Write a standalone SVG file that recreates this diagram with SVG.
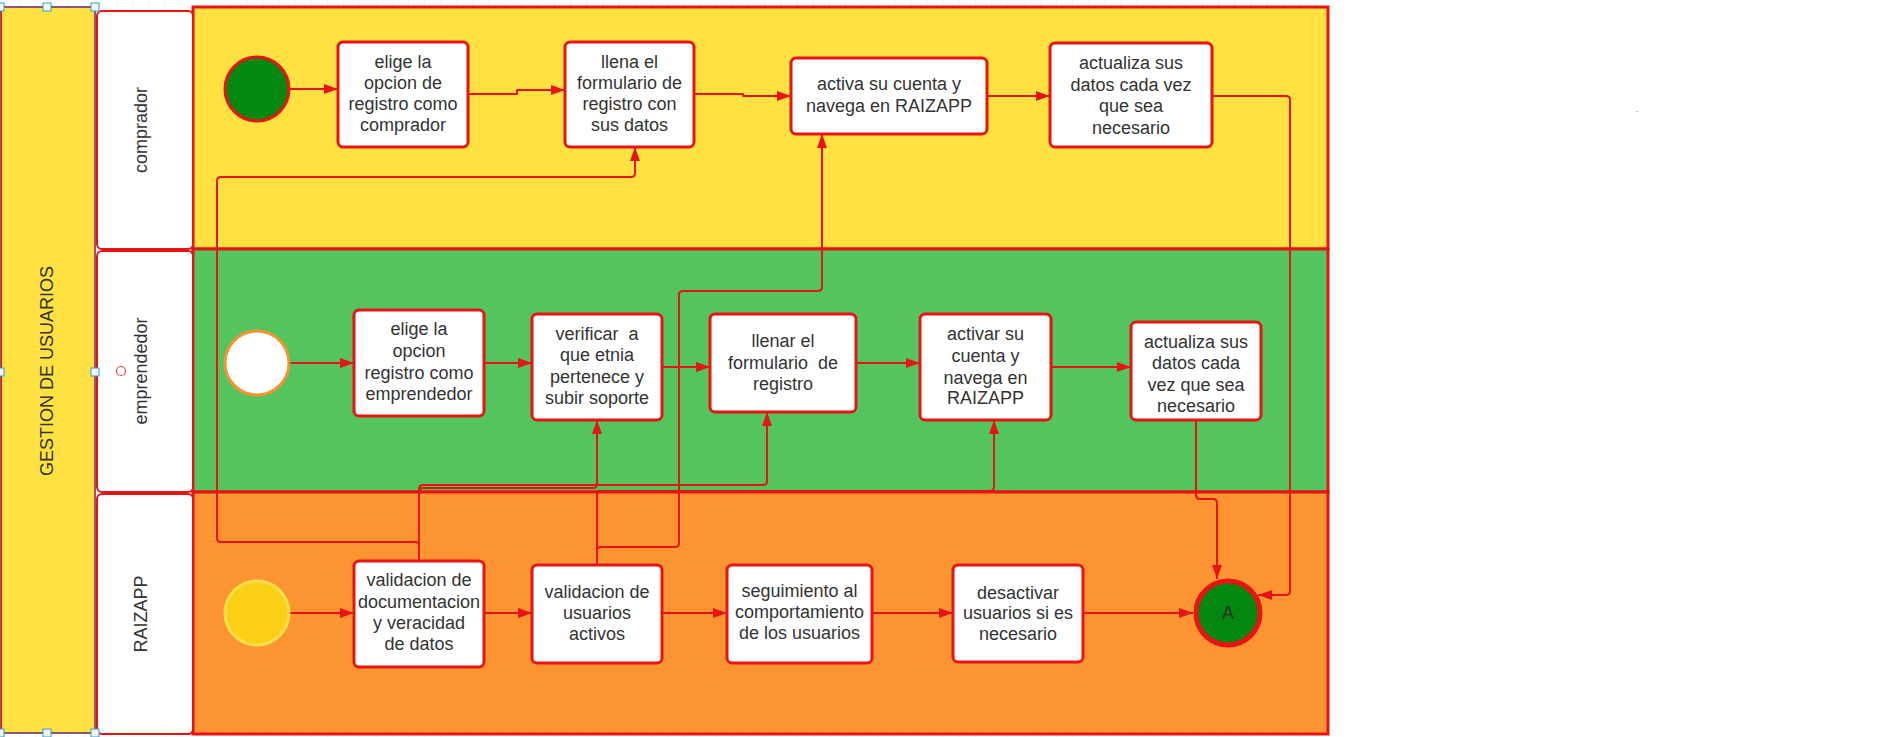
<svg xmlns="http://www.w3.org/2000/svg" width="1879" height="737" viewBox="0 0 1879 737">
<style>
.lane{stroke:#E81313;stroke-width:3}
.hdr{fill:#FFFFFF;stroke:#E81313;stroke-width:2}
.box{fill:#FFFFFF;stroke:#E81313;stroke-width:3}
.t{font-family:"Liberation Sans",Arial,sans-serif;font-size:18px;fill:#333333;text-anchor:middle;white-space:pre}
.c{fill:none;stroke:#E81313;stroke-width:2;stroke-linejoin:round}
.h{fill:#F2F4F7;stroke:#2E9FD8;stroke-width:1}
</style>
<defs>
<marker id="arr" markerWidth="14" markerHeight="10" refX="14" refY="5" orient="auto" markerUnits="userSpaceOnUse">
<path d="M0,0 L14,5 L0,10 z" fill="#E81313"/>
</marker>
<pattern id="grid" x="3" y="0" width="16.2" height="16.2" patternUnits="userSpaceOnUse">
<path d="M0,0 V16.2" stroke="#E3E3E3" stroke-width="1" fill="none"/>
</pattern>
</defs>
<rect x="0" y="0" width="1879" height="737" fill="#FFFFFF"/>
<rect x="0" y="0" width="1330" height="7" fill="url(#grid)"/>
<rect x="0" y="734" width="1330" height="3" fill="url(#grid)"/>

<g id="pool">
<rect x="1" y="7" width="94" height="726" fill="#FFE142" stroke="#E81313" stroke-width="2"/>
<text class="t" transform="translate(53,371) rotate(-90)">GESTION DE USUARIOS</text>
</g>

<g id="lane-comprador">
<rect class="lane" x="193" y="7" width="1135" height="242" fill="#FFE142"/>
<rect class="hdr" x="97" y="11" width="96" height="238" rx="5"/>
<text class="t" transform="translate(147,130) rotate(-90)">comprador</text>
</g>
<g id="lane-emprendedor">
<rect class="lane" x="193" y="249" width="1135" height="243" fill="#54C45E"/>
<rect class="hdr" x="97" y="251" width="96" height="241" rx="5"/>
<text class="t" transform="translate(147,371) rotate(-90)">emprendedor</text>
<circle cx="121" cy="371" r="4.5" fill="none" stroke="#E8454A" stroke-width="1.2"/>
</g>
<g id="lane-raizapp">
<rect class="lane" x="193" y="492" width="1135" height="242" fill="#FC9432"/>
<rect class="hdr" x="97" y="494" width="96" height="240" rx="5"/>
<text class="t" transform="translate(147,614) rotate(-90)">RAIZAPP</text>
</g>

<g id="selection">
<rect x="0" y="7" width="95" height="726" fill="none" stroke="#2E9FD8" stroke-width="1"/>
<rect class="h" x="-4" y="3" width="8" height="8"/>
<rect class="h" x="43" y="3" width="8" height="8"/>
<rect class="h" x="91" y="3" width="8" height="8"/>
<rect class="h" x="-4" y="368" width="8" height="8"/>
<rect class="h" x="91" y="368" width="8" height="8"/>
<rect class="h" x="-4" y="729" width="8" height="8"/>
<rect class="h" x="43" y="729" width="8" height="8"/>
<rect class="h" x="91" y="729" width="8" height="8"/>
</g>

<g id="connectors">
<path class="c" marker-end="url(#arr)" d="M289,89 H338"/>
<path class="c" marker-end="url(#arr)" d="M468,94 H517 V90 H565"/>
<path class="c" marker-end="url(#arr)" d="M694,94 H743 V96 H791"/>
<path class="c" marker-end="url(#arr)" d="M987,96 H1050"/>
<path class="c" marker-end="url(#arr)" d="M1212,96 H1286 Q1290,96 1290,100 V591 Q1290,595 1286,595 H1258"/>
<path class="c" marker-end="url(#arr)" d="M289,363 H354"/>
<path class="c" marker-end="url(#arr)" d="M484,363 H532"/>
<path class="c" marker-end="url(#arr)" d="M662,367 H710"/>
<path class="c" marker-end="url(#arr)" d="M856,363 H920"/>
<path class="c" marker-end="url(#arr)" d="M1051,367 H1131"/>
<path class="c" marker-end="url(#arr)" d="M1196,420 V495 Q1196,499 1200,499 H1213 Q1217,499 1217,503 V579"/>
<path class="c" marker-end="url(#arr)" d="M289,613 H354"/>
<path class="c" marker-end="url(#arr)" d="M484,613 H532"/>
<path class="c" marker-end="url(#arr)" d="M662,613 H727"/>
<path class="c" marker-end="url(#arr)" d="M872,613 H953"/>
<path class="c" marker-end="url(#arr)" d="M1083,613 H1193"/>
<path class="c" marker-end="url(#arr)" d="M419,561 V546 Q419,542 415,542 H221 Q217,542 217,538 V181 Q217,177 221,177 H631 Q635,177 635,173 V147"/>
<path class="c" marker-end="url(#arr)" d="M419,561 V492 Q419,488 423,488 H593 Q597,488 597,484 V420"/>
<path class="c" marker-end="url(#arr)" d="M419,561 V489 Q419,485 423,485 H763 Q767,485 767,481 V412"/>
<path class="c" marker-end="url(#arr)" d="M597,565 V551 Q597,547 601,547 H675 Q679,547 679,543 V295 Q679,291 683,291 H818 Q822,291 822,287 V134"/>
<path class="c" marker-end="url(#arr)" d="M597,565 V495 Q597,491 601,491 H990 Q994,491 994,487 V420"/>
</g>

<g id="start-comprador"><circle cx="257" cy="89" r="32" fill="#038711" stroke="#E81313" stroke-width="3"/></g>
<g id="start-emprendedor"><circle cx="257" cy="363" r="32" fill="#FFFFFF" stroke="#F7922E" stroke-width="3"/></g>
<g id="start-raizapp"><circle cx="257" cy="613" r="32" fill="#FBCF15" stroke="#FFE04A" stroke-width="3"/></g>
<g id="end-a"><circle cx="1228" cy="613" r="32" fill="#038711" stroke="#E81313" stroke-width="5"/>
<text class="t" x="1228" y="619" style="fill:#2E2E2E">A</text></g>

<g id="c1"><rect class="box" x="338" y="42" width="130" height="105" rx="5"/>
<text class="t" x="403" y="67.5">elige la</text><text class="t" x="403" y="88.5">opcion de</text><text class="t" x="403" y="109.5">registro como</text><text class="t" x="403" y="130.5">comprador</text></g>
<g id="c2"><rect class="box" x="565" y="42" width="129" height="105" rx="5"/>
<text class="t" x="629.5" y="67.5">llena el</text><text class="t" x="629.5" y="88.5">formulario de</text><text class="t" x="629.5" y="109.5">registro con</text><text class="t" x="629.5" y="130.5">sus datos</text></g>
<g id="c3"><rect class="box" x="791" y="58" width="196" height="76" rx="5"/>
<text class="t" x="889" y="89.5">activa su cuenta y</text><text class="t" x="889" y="111.5">navega en RAIZAPP</text></g>
<g id="c4"><rect class="box" x="1050" y="43" width="162" height="104" rx="5"/>
<text class="t" x="1131" y="68.5">actualiza sus</text><text class="t" x="1131" y="90.5">datos cada vez</text><text class="t" x="1131" y="111.5">que sea</text><text class="t" x="1131" y="133.5">necesario</text></g>

<g id="e1"><rect class="box" x="354" y="310" width="130" height="106" rx="5"/>
<text class="t" x="419" y="334.5">elige la</text><text class="t" x="419" y="356.5">opcion</text><text class="t" x="419" y="378.5">registro como</text><text class="t" x="419" y="399.5">emprendedor</text></g>
<g id="e2"><rect class="box" x="532" y="314" width="130" height="106" rx="5"/>
<text class="t" x="597" y="339.5">verificar  a</text><text class="t" x="597" y="360.5">que etnia</text><text class="t" x="597" y="382.5">pertenece y</text><text class="t" x="597" y="403.5">subir soporte</text></g>
<g id="e3"><rect class="box" x="710" y="314" width="146" height="98" rx="5"/>
<text class="t" x="783" y="346.5">llenar el</text><text class="t" x="783" y="368.5">formulario  de</text><text class="t" x="783" y="389.5">registro</text></g>
<g id="e4"><rect class="box" x="920" y="314" width="131" height="106" rx="5"/>
<text class="t" x="985.5" y="339.5">activar su</text><text class="t" x="985.5" y="361.5">cuenta y</text><text class="t" x="985.5" y="383.5">navega en</text><text class="t" x="985.5" y="403.5">RAIZAPP</text></g>
<g id="e5"><rect class="box" x="1131" y="322" width="130" height="98" rx="5"/>
<text class="t" x="1196" y="347.5">actualiza sus</text><text class="t" x="1196" y="368.5">datos cada</text><text class="t" x="1196" y="390.5">vez que sea</text><text class="t" x="1196" y="411.5">necesario</text></g>

<g id="r1"><rect class="box" x="354" y="561" width="130" height="106" rx="5"/>
<text class="t" x="419" y="585.5">validacion de</text><text class="t" x="419" y="607.5">documentacion</text><text class="t" x="419" y="628.5">y veracidad</text><text class="t" x="419" y="649.5">de datos</text></g>
<g id="r2"><rect class="box" x="532" y="565" width="130" height="98" rx="5"/>
<text class="t" x="597" y="597.5">validacion de</text><text class="t" x="597" y="618.5">usuarios</text><text class="t" x="597" y="639.5">activos</text></g>
<g id="r3"><rect class="box" x="727" y="565" width="145" height="98" rx="5"/>
<text class="t" x="799.5" y="596.5">seguimiento al</text><text class="t" x="799.5" y="617.5">comportamiento</text><text class="t" x="799.5" y="638.5">de los usuarios</text></g>
<g id="r4"><rect class="box" x="953" y="565" width="130" height="97" rx="5"/>
<text class="t" x="1018" y="598.5">desactivar</text><text class="t" x="1018" y="618.5">usuarios si es</text><text class="t" x="1018" y="639.5">necesario</text></g>

<text x="1636" y="112" style="font-family:'Liberation Sans',Arial,sans-serif;font-size:8px;fill:#333333">.</text>
</svg>
